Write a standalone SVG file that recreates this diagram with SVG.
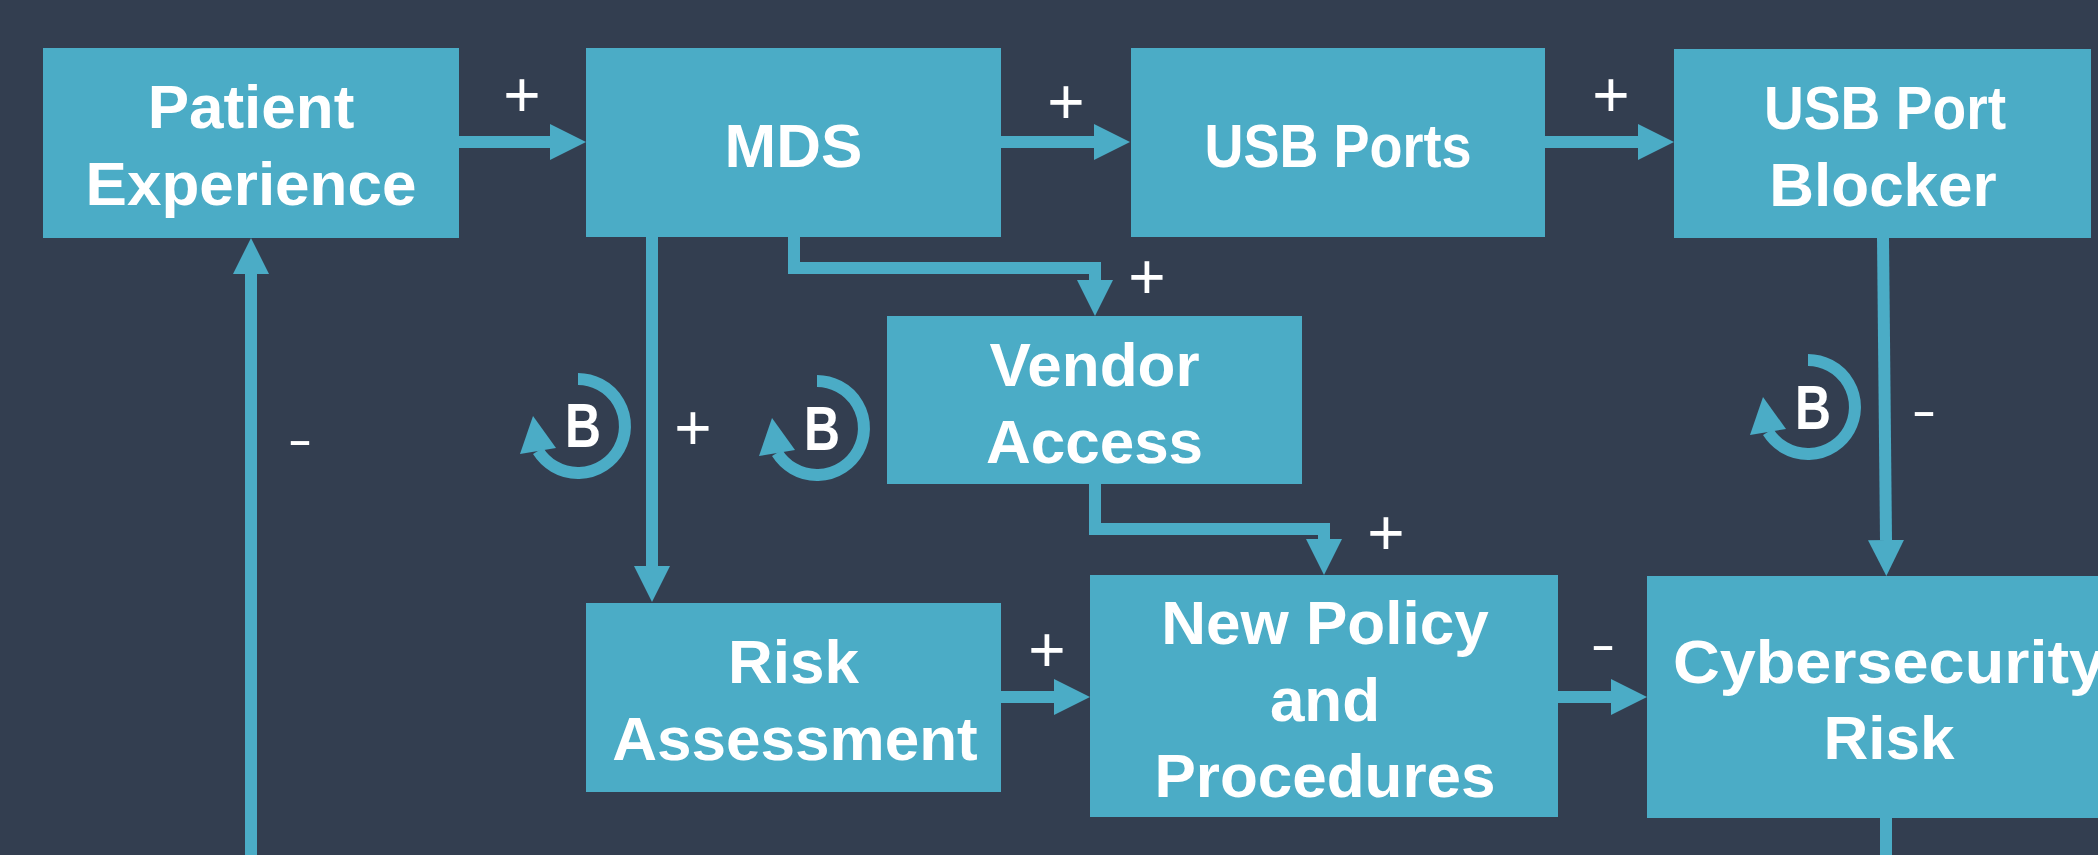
<svg xmlns="http://www.w3.org/2000/svg" width="2098" height="855" viewBox="0 0 2098 855">
<style>
.box{fill:#4BACC6}
.lbl{fill:#FFFFFF;font-family:"Liberation Sans",Arial,sans-serif;font-weight:bold;font-size:62px;text-anchor:middle}
.conn{fill:none;stroke:#4BACC6;stroke-width:12;stroke-linejoin:miter}
.sign{fill:#FFFFFF;font-family:"Liberation Sans",Arial,sans-serif;font-weight:normal;font-size:64px;text-anchor:middle}
.minus{fill:#FFFFFF;font-family:"Liberation Sans",Arial,sans-serif;font-weight:normal;font-size:50px;text-anchor:middle}
.loopb{fill:#FFFFFF;font-family:"Liberation Sans",Arial,sans-serif;font-weight:bold;font-size:63px;text-anchor:middle}
.arc{fill:none;stroke:#4BACC6;stroke-width:12}
.head{fill:#4BACC6}
</style>
<defs>
<marker id="arrow" markerUnits="userSpaceOnUse" markerWidth="36" markerHeight="36" refX="0" refY="18" orient="auto" viewBox="0 0 36 36">
<path d="M0,0 L36,18 L0,36 Z" fill="#4BACC6"/>
</marker>
<g id="loop">
<path class="arc" d="M0,-47 A47,47 0 1 1 -39.9,24.9"/>
<polygon class="head" points="-45,-10 -58,28 -22,22"/>
</g>
</defs>
<rect x="0" y="0" width="2098" height="855" fill="#333E50"/>

<g id="connectors">
<path class="conn" d="M459,142 H550" marker-end="url(#arrow)"/>
<path class="conn" d="M1001,142 H1094" marker-end="url(#arrow)"/>
<path class="conn" d="M1545,142 H1638" marker-end="url(#arrow)"/>
<path class="conn" d="M794,237 V268 H1095 V280" marker-end="url(#arrow)"/>
<path class="conn" d="M652,237 V566" marker-end="url(#arrow)"/>
<path class="conn" d="M1095,484 V529 H1324 V539" marker-end="url(#arrow)"/>
<path class="conn" d="M1001,697 H1054" marker-end="url(#arrow)"/>
<path class="conn" d="M1558,697 H1611" marker-end="url(#arrow)"/>
<path class="conn" d="M1883,238 L1886,540" marker-end="url(#arrow)"/>
<path class="conn" d="M1886,818 V855"/>
<path class="conn" d="M251,855 V274" marker-end="url(#arrow)"/>
</g>

<g id="connector-labels">
<text class="sign" x="522" y="117">+</text>
<text class="sign" x="1066" y="124">+</text>
<text class="sign" x="1611" y="117">+</text>
<text class="sign" x="1147" y="299">+</text>
<text class="sign" x="693" y="450">+</text>
<text class="sign" x="1386" y="555">+</text>
<text class="sign" x="1047" y="672">+</text>
<text class="minus" x="300" y="456" textLength="25" lengthAdjust="spacingAndGlyphs">-</text>
<text class="minus" x="1924" y="427" textLength="25" lengthAdjust="spacingAndGlyphs">-</text>
<text class="minus" x="1603" y="661" textLength="25" lengthAdjust="spacingAndGlyphs">-</text>
</g>

<g id="loop1">
<use href="#loop" x="578" y="426"/>
<text class="loopb" x="583" y="447" textLength="36" lengthAdjust="spacingAndGlyphs">B</text>
</g>
<g id="loop2">
<use href="#loop" x="817" y="428"/>
<text class="loopb" x="822" y="450" textLength="36" lengthAdjust="spacingAndGlyphs">B</text>
</g>
<g id="loop3">
<use href="#loop" x="1808" y="407"/>
<text class="loopb" x="1813" y="429" textLength="36" lengthAdjust="spacingAndGlyphs">B</text>
</g>

<g id="patient-experience">
<rect class="box" x="43" y="48" width="416" height="190"/>
<text class="lbl" x="251" y="128">Patient</text>
<text class="lbl" x="251" y="205">Experience</text>
</g>
<g id="mds">
<rect class="box" x="586" y="48" width="415" height="189"/>
<text class="lbl" x="793.5" y="167">MDS</text>
</g>
<g id="usb-ports">
<rect class="box" x="1131" y="48" width="414" height="189"/>
<text class="lbl" x="1338" y="167" textLength="267" lengthAdjust="spacingAndGlyphs">USB Ports</text>
</g>
<g id="usb-port-blocker">
<rect class="box" x="1674" y="49" width="417" height="189"/>
<text class="lbl" x="1885" y="129" textLength="242" lengthAdjust="spacingAndGlyphs">USB Port</text>
<text class="lbl" x="1883" y="206">Blocker</text>
</g>
<g id="vendor-access">
<rect class="box" x="887" y="316" width="415" height="168"/>
<text class="lbl" x="1094.5" y="386">Vendor</text>
<text class="lbl" x="1094.5" y="463">Access</text>
</g>
<g id="risk-assessment">
<rect class="box" x="586" y="603" width="415" height="189"/>
<text class="lbl" x="793.5" y="683">Risk</text>
<text class="lbl" x="795" y="760">Assessment</text>
</g>
<g id="new-policy">
<rect class="box" x="1090" y="575" width="468" height="242"/>
<text class="lbl" x="1325" y="644">New Policy</text>
<text class="lbl" x="1325" y="721">and</text>
<text class="lbl" x="1325" y="797">Procedures</text>
</g>
<g id="cybersecurity-risk">
<rect class="box" x="1647" y="576" width="480" height="242"/>
<text class="lbl" x="1889" y="683" textLength="432" lengthAdjust="spacingAndGlyphs">Cybersecurity</text>
<text class="lbl" x="1889" y="759">Risk</text>
</g>
</svg>
